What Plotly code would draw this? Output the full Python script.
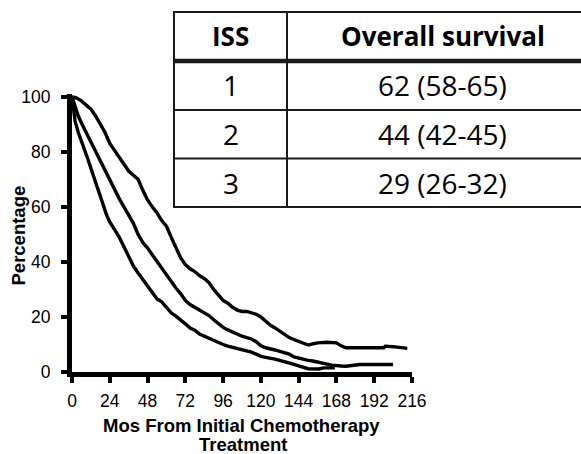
import plotly.graph_objects as go

# ---------------- data ----------------
iss1_months = [0, 3, 6, 9, 12, 15, 18, 21, 24, 27, 30, 33, 36, 39, 42, 45, 48, 51, 54, 57,
               60, 63, 66, 69, 72, 75, 78, 81, 84, 87, 90, 93, 96, 99, 102, 105, 108, 111,
               114, 117, 120, 123, 126, 129, 132, 135, 138, 141, 144, 147, 150, 153, 156,
               162, 168, 171, 174, 198, 199, 204, 210, 213]
iss1_pct = [100, 99.5, 98.5, 97, 95.5, 93, 90, 87, 83, 80.5, 78, 76, 73, 71.5, 70, 66, 62.5,
            60, 57.8, 55, 53, 49, 45, 41.5, 39, 37.5, 36.5, 35, 34, 32.5, 30, 28, 26, 25,
            23.5, 22.5, 22, 22, 21.5, 21, 20, 18.5, 17, 16, 14.8, 13.5, 12.5, 11.8, 11.2,
            10.5, 9.8, 10.2, 10.6, 10.8, 10.6, 9.5, 8.8, 8.8, 9.4, 9.2, 9, 8.6]

iss2_months = [0, 2, 4, 6, 9, 12, 15, 18, 21, 24, 27, 30, 33, 36, 39, 42, 45, 48, 51, 54,
               57, 60, 63, 66, 69, 72, 75, 78, 81, 84, 87, 90, 93, 96, 99, 102, 105, 108,
               111, 114, 117, 120, 123, 126, 129, 132, 135, 138, 141, 144, 147, 150, 153,
               156, 159, 165, 171, 174, 183, 204]
iss2_pct = [100, 96, 93, 90.5, 87, 83.5, 80, 76.5, 73, 70, 66.5, 63, 60, 57, 54, 50, 47, 45,
            42.5, 40, 37.5, 35, 32.5, 30.5, 28.5, 26, 24.5, 23.5, 22.3, 21.5, 20.5, 19, 17.5,
            16.2, 15.3, 14.5, 13.8, 13, 12.5, 12, 11, 9.5, 8.8, 8.5, 8, 7.5, 7, 6.5, 5.5, 5,
            4.5, 4.2, 4, 3.6, 3.3, 2.5, 2.2, 2.1, 2.7, 2.7]

iss3_months = [0, 1, 2, 4, 6, 8, 10, 12, 14, 16, 18, 20, 22, 24, 27, 30, 33, 36, 39, 42, 45,
               48, 51, 54, 57, 60, 63, 66, 69, 72, 75, 78, 81, 84, 87, 90, 93, 96, 99, 102,
               105, 108, 111, 114, 117, 120, 123, 126, 129, 132, 135, 138, 141, 144, 147,
               150, 157, 160, 167]
iss3_pct = [100, 95, 91, 87, 84, 80.5, 77.5, 74, 70.5, 67.5, 64, 60.5, 57, 54.5, 52, 49,
            45.5, 42, 38.5, 36, 33.5, 31, 28.5, 26.5, 25.5, 23.5, 21.5, 20.3, 19, 17.5, 16,
            15.2, 13.8, 13, 12.2, 11.3, 10.5, 10, 9.4, 9, 8.5, 8, 7.8, 7.2, 6.5, 5.7, 5.3,
            5.1, 4.7, 4.2, 3.8, 3.3, 2.8, 2.2, 1.6, 1.2, 1.1, 1.5, 1.5]

x_ticks = [0, 24, 48, 72, 96, 120, 144, 168, 192, 216]
y_ticks = [0, 20, 40, 60, 80, 100]

x_title_lines = ["Mos From Initial Chemotherapy", "Treatment"]
y_title = "Percentage"

table_header = ["ISS", "Overall survival"]
table_iss = ["1", "2", "3"]
table_os = ["62 (58-65)", "44 (42-45)", "29 (26-32)"]

# ---------------- layout geometry (pixels) ----------------
W, H = 581, 454
L, R, T, B = 72, 169, 94, 82
PW, PH = W - L - R, H - T - B


def px(x):
    return (x - L) / PW


def py(y):
    return (T + PH - y) / PH


fig = go.Figure()
for xs, ys in [(iss1_months, iss1_pct), (iss2_months, iss2_pct), (iss3_months, iss3_pct)]:
    fig.add_trace(go.Scatter(x=xs, y=ys, mode="lines", line=dict(color="black", width=3.4),
                             showlegend=False, hoverinfo="skip"))

shapes = []
shapes.append(dict(type="rect", xref="paper", yref="paper", x0=px(174), x1=px(600), y0=py(207), y1=py(12),
                   fillcolor="white", line=dict(width=0), layer="above"))
line_col = "#1a1a1a"
for yy, wdt in [(12, 2), (61, 4.5), (110, 2), (158.5, 2), (207, 2)]:
    shapes.append(dict(type="line", xref="paper", yref="paper", x0=px(173), x1=px(600), y0=py(yy), y1=py(yy),
                       line=dict(color=line_col, width=wdt), layer="above"))
for xx in [174, 287]:
    shapes.append(dict(type="line", xref="paper", yref="paper", x0=px(xx), x1=px(xx), y0=py(207), y1=py(12),
                       line=dict(color=line_col, width=2), layer="above"))

annotations = []
col_x = [230.5, 443]
tfont = dict(family="Open Sans", size=26, color="black")
rfont = dict(family="Open Sans", size=28, color="black")
annotations.append(dict(text="<b>%s</b>" % table_header[0], x=px(col_x[0]), y=py(36.5), font=tfont))
annotations.append(dict(text="<b>%s</b>" % table_header[1], x=px(col_x[1]), y=py(36.5), font=tfont))
row_y = [85, 133.5, 182.5]
for i in range(3):
    annotations.append(dict(text=table_iss[i], x=px(col_x[0]), y=py(row_y[i]), font=rfont))
    annotations.append(dict(text=table_os[i], x=px(col_x[1]), y=py(row_y[i]), font=rfont))

afont = dict(family="Liberation Sans", size=18.5, color="black")
annotations.append(dict(text="<b>%s</b>" % x_title_lines[0], x=px(241), y=py(425), font=afont))
annotations.append(dict(text="<b>%s</b>" % x_title_lines[1], x=px(243), y=py(444.5), font=afont))
annotations.append(dict(text="<b>%s</b>" % y_title, x=px(18.5), y=py(236), textangle=-90, font=afont))

for a in annotations:
    a.update(xref="paper", yref="paper", showarrow=False, xanchor="center", yanchor="middle")

fig.update_layout(
    width=W, height=H, margin=dict(l=L, r=R, t=T, b=B),
    paper_bgcolor="white", plot_bgcolor="white",
    shapes=shapes, annotations=annotations,
    font=dict(family="Liberation Sans, Arial", color="black"),
)
fig.update_xaxes(range=[0, 216], tickvals=x_ticks, ticktext=[str(v) for v in x_ticks],
                 showgrid=False, zeroline=False, showline=True, linecolor="black", linewidth=5,
                 ticks="outside", ticklen=6, tickwidth=4, tickcolor="black",
                 tickfont=dict(size=17.5, family="Liberation Sans"), ticklabelstandoff=3)
fig.update_yaxes(range=[0, 101], tickvals=y_ticks, ticktext=[str(v) for v in y_ticks],
                 showgrid=False, zeroline=False, showline=True, linecolor="black", linewidth=5,
                 ticks="outside", ticklen=6, tickwidth=4, tickcolor="black",
                 tickfont=dict(size=17.5, family="Liberation Sans"), ticklabelstandoff=7)

fig.write_html("out.html")
